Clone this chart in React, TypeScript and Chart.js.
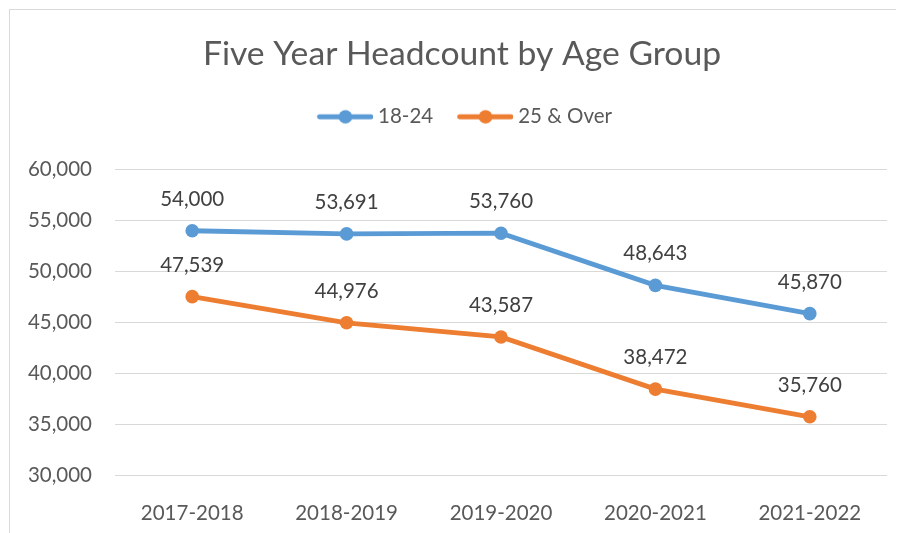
import React, { useEffect, useRef } from "react";
import { Chart, registerables } from "chart.js";

Chart.register(...registerables);

const categories = ["2017-2018", "2018-2019", "2019-2020", "2020-2021", "2021-2022"];
const series18to24 = [54000, 53691, 53760, 48643, 45870];
const series25over = [47539, 44976, 43587, 38472, 35760];
const yMin = 30000;
const yMax = 60000;
const yStep = 5000;

const BLUE = "#5B9BD5";
const ORANGE = "#ED7D31";
const FONT = "Lato, 'Open Sans', sans-serif";

function legendImage(color: string): HTMLCanvasElement {
  const c = document.createElement("canvas");
  c.width = 66;
  c.height = 16;
  const ctx = c.getContext("2d")!;
  ctx.strokeStyle = color;
  ctx.lineWidth = 4.8;
  ctx.lineCap = "round";
  ctx.beginPath();
  ctx.moveTo(12.5, 8);
  ctx.lineTo(64, 8);
  ctx.stroke();
  ctx.fillStyle = color;
  ctx.beginPath();
  ctx.arc(38.5, 8, 6.8, 0, Math.PI * 2);
  ctx.fill();
  return c;
}

const dataLabels = {
  id: "dataLabels",
  afterDatasetsDraw(chart: any) {
    const ctx = chart.ctx;
    ctx.save();
    ctx.font = `20.5px ${FONT}`;
    ctx.fillStyle = "#404040";
    ctx.textAlign = "center";
    ctx.textBaseline = "alphabetic";
    chart.data.datasets.forEach((ds: any, i: number) => {
      const meta = chart.getDatasetMeta(i);
      meta.data.forEach((el: any, j: number) => {
        const v = ds.data[j] as number;
        ctx.fillText(v.toLocaleString("en-US"), el.x, el.y - 25);
      });
    });
    ctx.restore();
  },
};

export default function App() {
  const ref = useRef<HTMLCanvasElement | null>(null);
  useEffect(() => {
    if (!ref.current) return;
    const imgs = [legendImage(BLUE), legendImage(ORANGE)];
    const chart = new Chart(ref.current, {
      type: "line",
      data: {
        labels: categories,
        datasets: [
          {
            label: "18-24",
            data: series18to24,
            borderColor: BLUE,
            backgroundColor: BLUE,
            borderWidth: 4.8,
            pointRadius: 6.8,
            pointBorderWidth: 0,
            pointBackgroundColor: BLUE,
            pointStyle: "circle",
            tension: 0,
          },
          {
            label: "25 & Over",
            data: series25over,
            borderColor: ORANGE,
            backgroundColor: ORANGE,
            borderWidth: 4.8,
            pointRadius: 6.8,
            pointBorderWidth: 0,
            pointBackgroundColor: ORANGE,
            pointStyle: "circle",
            tension: 0,
          },
        ],
      },
      options: {
        responsive: false,
        animation: false,
        layout: { padding: { left: 0, right: 0, top: 0, bottom: 14.5 } },
        plugins: {
          title: {
            display: true,
            text: "Five Year Headcount by Age Group",
            color: "#595959",
            font: { family: FONT, size: 33.7, weight: "normal", lineHeight: 1.2 },
            padding: { top: 23.8, bottom: 13.3 },
            weight: 2000,
          } as any,
          legend: {
            display: true,
            position: "top",
            weight: 1800,
            labels: {
              color: "#595959",
              font: { family: FONT, size: 20.5 },
              usePointStyle: true,
              pointStyleWidth: 55.75,
              padding: 19,
              generateLabels: (c: any) =>
                c.data.datasets.map((ds: any, i: number) => ({
                  text: ds.label,
                  fillStyle: ds.borderColor,
                  strokeStyle: ds.borderColor,
                  lineWidth: 0,
                  pointStyle: imgs[i],
                  hidden: false,
                  datasetIndex: i,
                  fontColor: "#595959",
                })),
            },
          } as any,
          subtitle: {
            display: true,
            text: "",
            font: { size: 10, lineHeight: 1 },
            padding: { top: 0, bottom: 22.55 },
            weight: 1500,
          } as any,
          tooltip: { enabled: false },
        },
        scales: {
          x: {
            offset: true,
            grid: { display: false },
            border: { display: false },
            ticks: {
              color: "#595959",
              font: { family: FONT, size: 20.5 },
              padding: 18,
              maxRotation: 0,
            },
            afterFit: (s: any) => {
              s.height = 50;
            },
          },
          y: {
            min: yMin,
            max: yMax,
            grid: { color: "#d9d9d9", lineWidth: 1, drawTicks: false },
            border: { display: false },
            ticks: {
              stepSize: yStep,
              color: "#595959",
              font: { family: FONT, size: 20.5 },
              padding: 23,
              callback: (v: any) => Number(v).toLocaleString("en-US"),
            },
            afterFit: (s: any) => {
              s.width = 105;
            },
          },
          yRight: {
            type: "linear",
            position: "right",
            grid: { display: false },
            border: { display: false },
            ticks: { display: false },
            afterFit: (s: any) => {
              s.width = 27;
            },
          },
        },
      },
      plugins: [dataLabels],
    });
    return () => chart.destroy();
  }, []);

  return (
    <div style={{ width: 896, height: 525, overflow: "hidden", background: "#fff" }}>
      <div
        style={{
          marginLeft: 1,
          marginTop: 1,
          width: 906,
          height: 540,
          borderLeft: "1px solid #d9d9d9",
          borderTop: "1px solid #d9d9d9",
          boxSizing: "border-box",
        }}
      >
        <canvas ref={ref} width={904} height={530} style={{ display: "block" }} />
      </div>
    </div>
  );
}
